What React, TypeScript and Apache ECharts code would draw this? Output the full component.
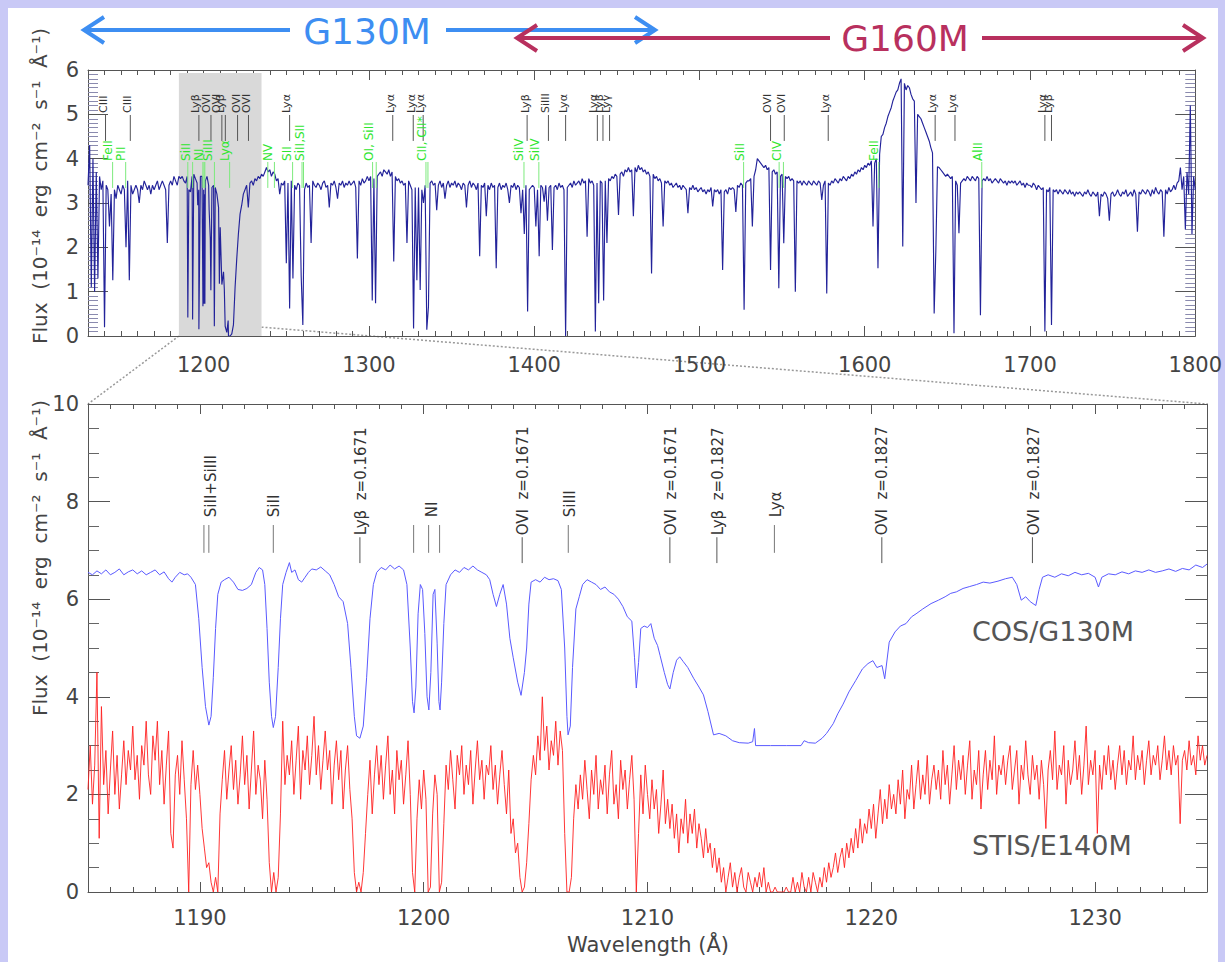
import React, { useEffect, useRef } from 'react';
import * as echarts from 'echarts';

// ---------- DATA ----------
// Full COS spectrum (top panel), flux at 1 Å steps from 1130 to 1800
const topStart = 1130;
const topFlux = [
  3.4, 4.3, 1.1, 4.0, 1.0, 3.7, 1.3, 3.6, 3.3, 3.5,
  0.2, 3.4, 3.3, 2.47, 3.2, 1.26, 3.3, 3.1, 3.4, 3.3,
  3.2, 3.4, 3.3, 2.0, 3.5, 1.26, 3.4, 3.2, 3.3, 3.4,
  3.3, 3.0, 3.4, 3.3, 3.5, 3.4, 3.3, 3.4, 3.2, 3.4,
  3.3, 3.4, 3.5, 3.3, 3.4, 3.5, 3.4, 3.3, 2.1, 3.4,
  3.5, 3.4, 3.6, 3.5, 3.4, 3.6, 3.55, 3.6, 3.5, 3.45,
  3.6, 3.3, 3.25, 3.6, 3.65, 3.55, 3.45, 3.3, 3.6, 3.6,
  3.3, 3.5, 3.6, 3.4, 2.2, 3.35, 3.4, 3.35, 3.2, 2.9,
  2.45, 1.16, 1.45, 0.22, 0.08, 0.0, 0.0, 0.05, 0.25, 1.1,
  1.74, 2.3, 2.75, 2.95, 3.2, 3.3, 3.4, 2.9, 3.45, 3.5,
  3.4, 3.55, 3.5, 3.6, 3.55, 3.65, 3.6, 3.7, 3.8, 3.7,
  3.75, 3.6, 3.7, 3.65, 3.5, 3.55, 3.2, 3.45, 3.4, 3.5,
  1.64, 3.45, 0.62, 3.5, 1.3, 3.4, 3.3, 3.45, 3.4, 1.34,
  0.25, 3.3, 3.45, 3.35, 3.4, 2.1, 3.5, 3.4, 3.35, 3.45,
  3.4, 3.3, 3.45, 3.5, 3.35, 3.4, 2.9, 3.45, 3.4, 3.5,
  3.35, 3.1, 3.45, 3.4, 3.5, 3.35, 3.45, 3.4, 3.5, 3.4,
  3.45, 3.5, 3.35, 1.75, 3.5, 3.4, 3.55, 3.45, 3.5, 3.6,
  3.5, 3.6, 0.8, 3.55, 0.74, 3.6, 3.65, 3.7, 3.6, 3.75,
  3.7, 3.65, 3.75, 3.6, 3.7, 1.68, 3.6, 3.5, 3.55, 3.45,
  3.5, 3.4, 3.45, 2.1, 3.5, 3.4, 3.3, 0.17, 3.35, 1.26,
  3.35, 1.04, 3.3, 3.0, 3.4, 0.14, 0.66, 3.45, 3.5, 3.4,
  3.45, 2.84, 3.4, 3.5, 3.35, 3.45, 3.1, 3.4, 3.5, 3.35,
  3.45, 3.4, 3.5, 3.35, 3.45, 3.4, 3.3, 3.45, 3.4, 2.9,
  3.4, 3.5, 3.35, 3.45, 3.4, 3.3, 3.45, 1.8, 3.4, 3.35,
  3.45, 2.7, 3.4, 3.3, 3.45, 3.35, 3.4, 1.53, 3.35, 3.45,
  3.3, 3.4, 3.35, 3.45, 3.3, 3.0, 3.4, 3.35, 3.45, 3.3,
  3.4, 3.35, 2.77, 3.3, 2.3, 3.4, 0.55, 3.3, 3.35, 3.4,
  3.35, 2.47, 3.3, 1.8, 3.4, 3.35, 3.03, 3.4, 2.6, 3.35,
  3.4, 1.94, 3.35, 3.4, 3.3, 3.45, 3.35, 3.4, 3.3, 0.0,
  3.35, 3.4, 3.45, 3.35, 3.5, 3.4, 3.45, 3.5, 3.4, 3.55,
  3.45, 3.5, 2.24, 3.55, 3.45, 3.5, 3.4, 0.1, 3.45, 0.74,
  3.5, 3.45, 0.8, 3.5, 2.1, 3.55, 3.5, 3.6, 3.55, 3.65,
  3.6, 2.73, 3.65, 3.7, 3.6, 3.75, 3.7, 3.8, 3.7, 3.75,
  2.7, 3.8, 3.7, 3.85, 3.75, 3.8, 3.7, 3.75, 3.65, 3.7,
  3.6, 1.41, 3.65, 3.55, 3.6, 3.5, 3.55, 3.45, 2.47, 3.5,
  3.45, 3.5, 3.4, 3.45, 3.35, 3.4, 3.45, 3.35, 3.4, 3.3,
  3.4, 3.35, 3.3, 2.77, 3.35, 3.3, 3.4, 3.3, 3.35, 3.25,
  3.3, 3.35, 3.25, 3.3, 3.2, 3.3, 3.25, 3.35, 2.92, 3.3,
  3.25, 3.3, 3.2, 3.3, 1.49, 3.25, 3.3, 3.2, 3.35, 3.3,
  3.35, 3.3, 2.8, 3.4, 3.35, 3.45, 3.4, 0.59, 3.45, 3.5,
  3.5, 3.55, 2.47, 3.6, 3.75, 4.0, 3.95, 3.9, 3.85, 3.8,
  3.85, 3.75, 3.8, 1.49, 3.7, 3.75, 3.65, 3.7, 1.08, 3.6,
  3.65, 2.09, 3.6, 3.55, 3.6, 3.5, 3.55, 3.5, 1.0, 3.5,
  3.45, 3.5, 3.4, 3.5, 3.45, 3.4, 3.5, 3.45, 3.4, 3.5,
  3.45, 3.4, 3.5, 3.45, 3.07, 3.4, 3.5, 0.96, 3.45, 3.4,
  3.5, 3.45, 3.55, 3.5, 3.45, 3.55, 3.5, 3.6, 3.55, 3.5,
  3.6, 3.55, 3.65, 3.6, 3.7, 3.65, 3.75, 3.7, 3.8, 3.75,
  3.85, 3.8, 3.9, 3.85, 3.95, 2.47, 3.9, 4.0, 1.53, 4.1,
  4.5, 4.55, 4.7, 4.8, 4.95, 5.05, 5.15, 5.3, 5.4, 5.5,
  5.55, 5.7, 5.8, 2.02, 5.7, 5.55, 5.65, 5.6, 5.45, 5.35,
  5.3, 3.0, 5.0, 4.95, 4.9, 4.8, 4.7, 4.6, 4.5, 4.4,
  4.25, 4.13, 0.51, 1.9, 3.82, 3.8, 3.75, 3.7, 3.65, 3.6,
  3.65, 3.6, 3.55, 3.6, 0.06, 3.5, 3.4, 2.32, 3.45, 3.5,
  3.55, 3.5, 3.6, 3.55, 3.5, 3.6, 3.55, 3.5, 3.6, 3.55,
  0.47, 3.5, 3.55, 3.5, 3.6, 3.5, 3.55, 3.45, 3.5, 3.55,
  3.5, 3.45, 3.55, 3.5, 3.45, 3.5, 3.4, 3.5, 3.45, 3.5,
  3.45, 3.5, 3.4, 3.45, 3.5, 3.4, 3.45, 3.35, 3.45, 3.4,
  3.4, 3.35, 3.45, 3.4, 3.3, 3.4, 3.35, 3.3, 3.35, 0.1,
  3.3, 3.25, 3.35, 0.25, 3.3, 3.25, 3.3, 3.2, 3.3, 3.25,
  3.2, 3.3, 3.25, 3.2, 3.3, 3.2, 3.25, 3.15, 3.25, 3.2,
  3.25, 3.2, 3.15, 3.25, 3.2, 3.3, 3.2, 3.15, 3.25, 3.2,
  3.15, 3.25, 2.7, 3.2, 3.15, 3.25, 3.2, 3.1, 2.6, 3.2,
  3.25, 3.15, 3.2, 3.3, 3.2, 3.15, 3.25, 3.2, 3.3, 3.15,
  3.2, 3.25, 3.15, 3.3, 3.2, 2.35, 3.25, 3.2, 3.3, 3.25,
  3.2, 3.3, 3.25, 3.15, 3.3, 3.2, 3.35, 3.25, 3.2, 3.3,
  3.25, 2.24, 3.3, 3.2, 3.35, 3.25, 3.3, 3.4, 3.3, 3.45,
  3.5, 3.8, 3.3, 3.6, 2.4, 3.7, 3.2, 5.2, 2.3, 3.6,
  3.3,
];
// extra narrow absorption minima inside the zoomed window (top panel)
const topLines = [
  [1190.4, 0.42], [1193.3, 0.37], [1196.4, 2.95], [1197.1, 0.15], [1199.55, 0.67],
  [1200.22, 0.73], [1200.45, 3.2], [1200.72, 0.73], [1203.3, 2.85], [1204.35, 1.03],
  [1206.45, 0.22], [1209.5, 1.18], [1212.5, 1.04], [1214.8, 0.35],
];

// COS/G130M in the zoom panel (as displayed, offset upward)
const cosG130M = [
  [1185.0, 6.55], [1185.2, 6.5], [1185.4, 6.58], [1185.6, 6.52], [1185.8, 6.6], [1186.0, 6.5],
  [1186.2, 6.55], [1186.4, 6.62], [1186.6, 6.5], [1186.8, 6.56], [1187.0, 6.6], [1187.2, 6.52],
  [1187.4, 6.58], [1187.6, 6.5], [1187.8, 6.55], [1188.0, 6.6], [1188.2, 6.5], [1188.4, 6.56],
  [1188.6, 6.42], [1188.75, 6.35], [1188.9, 6.45], [1189.1, 6.55], [1189.3, 6.5], [1189.45, 6.52],
  [1189.6, 6.45], [1189.8, 6.3], [1189.95, 5.6], [1190.1, 4.6], [1190.25, 3.8], [1190.4, 3.42],
  [1190.5, 3.6], [1190.6, 4.4], [1190.7, 5.4], [1190.8, 6.1], [1190.95, 6.35], [1191.1, 6.4],
  [1191.3, 6.45], [1191.5, 6.35], [1191.7, 6.2], [1191.9, 6.18], [1192.1, 6.22], [1192.3, 6.3],
  [1192.5, 6.55], [1192.65, 6.65], [1192.8, 6.6], [1192.9, 6.3], [1193.0, 5.4], [1193.1, 4.3],
  [1193.2, 3.6], [1193.28, 3.37], [1193.38, 3.6], [1193.5, 4.6], [1193.6, 5.6], [1193.7, 6.3],
  [1193.85, 6.55], [1194.0, 6.75], [1194.1, 6.55], [1194.25, 6.6], [1194.4, 6.4], [1194.55, 6.35],
  [1194.7, 6.45], [1194.85, 6.55], [1195.0, 6.62], [1195.2, 6.6], [1195.4, 6.66], [1195.6, 6.58],
  [1195.8, 6.5], [1196.0, 6.3], [1196.2, 6.05], [1196.4, 5.95], [1196.6, 5.5], [1196.75, 4.6],
  [1196.9, 3.6], [1197.0, 3.2], [1197.15, 3.15], [1197.3, 3.4], [1197.45, 4.4], [1197.6, 5.6],
  [1197.75, 6.3], [1197.9, 6.55], [1198.1, 6.65], [1198.3, 6.6], [1198.5, 6.7], [1198.7, 6.62],
  [1198.9, 6.68], [1199.1, 6.6], [1199.25, 6.3], [1199.4, 5.0], [1199.5, 3.9], [1199.57, 3.67],
  [1199.65, 4.2], [1199.75, 5.7], [1199.85, 6.3], [1199.95, 6.2], [1200.05, 5.3], [1200.15, 4.0],
  [1200.23, 3.73], [1200.32, 4.5], [1200.42, 6.1], [1200.5, 6.2], [1200.6, 5.1], [1200.68, 3.9],
  [1200.73, 3.73], [1200.8, 4.3], [1200.9, 5.5], [1201.0, 6.3], [1201.2, 6.5], [1201.4, 6.6],
  [1201.6, 6.55], [1201.8, 6.65], [1202.0, 6.6], [1202.2, 6.68], [1202.4, 6.6], [1202.6, 6.55],
  [1202.8, 6.5], [1202.95, 6.4], [1203.1, 6.1], [1203.25, 5.85], [1203.4, 6.1], [1203.55, 6.3],
  [1203.7, 5.9], [1203.85, 5.2], [1204.0, 4.8], [1204.2, 4.3], [1204.35, 4.03], [1204.5, 4.5],
  [1204.6, 5.0], [1204.7, 5.9], [1204.8, 6.35], [1205.0, 6.4], [1205.2, 6.35], [1205.4, 6.45],
  [1205.6, 6.4], [1205.8, 6.42], [1206.0, 6.38], [1206.15, 6.2], [1206.3, 5.0], [1206.4, 3.6],
  [1206.45, 3.22], [1206.55, 3.4], [1206.65, 4.6], [1206.8, 5.8], [1206.95, 6.05], [1207.1, 6.3],
  [1207.3, 6.4], [1207.5, 6.35], [1207.7, 6.3], [1207.9, 6.2], [1208.1, 6.25], [1208.3, 6.15],
  [1208.5, 6.1], [1208.7, 6.0], [1208.9, 5.85], [1209.1, 5.64], [1209.3, 5.55], [1209.42, 4.8],
  [1209.5, 4.18], [1209.6, 4.7], [1209.7, 5.4], [1209.85, 5.45], [1210.0, 5.42], [1210.15, 5.5],
  [1210.3, 5.2], [1210.45, 5.05], [1210.56, 4.85], [1210.75, 4.5], [1210.9, 4.25], [1211.0, 4.16],
  [1211.15, 4.5], [1211.3, 4.75], [1211.44, 4.82], [1211.6, 4.72], [1211.8, 4.6], [1212.06, 4.38],
  [1212.3, 4.2], [1212.5, 4.04], [1212.7, 3.7], [1212.95, 3.22], [1213.2, 3.25], [1213.5, 3.2],
  [1213.8, 3.1], [1214.1, 3.06], [1214.5, 3.05], [1214.7, 3.08], [1214.78, 3.35], [1214.83, 3.0],
  [1215.5, 3.0], [1216.2, 3.0], [1216.86, 3.0], [1217.0, 3.1], [1217.2, 3.06], [1217.5, 3.05],
  [1217.8, 3.15], [1218.0, 3.25], [1218.3, 3.45], [1218.5, 3.65], [1218.74, 3.85], [1219.0, 4.1],
  [1219.3, 4.33], [1219.6, 4.57], [1219.85, 4.68], [1220.07, 4.74], [1220.25, 4.6], [1220.48, 4.64],
  [1220.6, 4.37], [1220.8, 5.12], [1221.06, 5.33], [1221.3, 5.45], [1221.55, 5.5], [1221.8, 5.64],
  [1222.0, 5.7], [1222.3, 5.8], [1222.67, 5.91], [1223.0, 5.98], [1223.3, 6.05], [1223.55, 6.12],
  [1223.8, 6.15], [1224.1, 6.22], [1224.4, 6.26], [1224.7, 6.3], [1225.0, 6.35], [1225.3, 6.33],
  [1225.66, 6.37], [1226.0, 6.42], [1226.3, 6.45], [1226.5, 6.3], [1226.7, 5.98], [1226.9, 6.05],
  [1227.1, 5.95], [1227.35, 5.87], [1227.5, 6.2], [1227.65, 6.45], [1227.9, 6.5], [1228.2, 6.45],
  [1228.5, 6.52], [1228.8, 6.48], [1229.1, 6.55], [1229.4, 6.5], [1229.7, 6.53], [1230.0, 6.45],
  [1230.15, 6.25], [1230.3, 6.45], [1230.6, 6.52], [1230.9, 6.5], [1231.2, 6.56], [1231.5, 6.52],
  [1231.8, 6.58], [1232.1, 6.55], [1232.4, 6.6], [1232.7, 6.55], [1233.0, 6.58], [1233.3, 6.62],
  [1233.6, 6.57], [1233.9, 6.63], [1234.2, 6.6], [1234.5, 6.7], [1234.8, 6.65], [1235.0, 6.72],
];

// STIS/E140M in the zoom panel, 0.1 Å steps from 1185.0
const stisStart = 1185;
const stisStep = 0.1;
const stisE140M = [
  2.1, 3.0, 1.8, 2.6, 4.5, 1.1, 3.8, 2.2, 2.9, 1.6,
  2.5, 3.3, 2.0, 2.8, 1.7, 2.4, 3.1, 2.2, 2.9, 2.5,
  3.4, 2.3, 2.8, 1.9, 3.0, 2.6, 3.5, 2.4, 2.0, 3.2,
  2.7, 3.5, 2.2, 2.9, 1.8, 2.6, 3.3, 1.2, 0.9, 2.4,
  2.8, 2.0, 3.1, 2.3, 1.5, 0.0, 2.2, 2.9, 2.1, 2.6,
  2.0, 1.3, 0.9, 0.5, 0.6, 0.2, 0.0, 0.3, 0.0, 1.6,
  2.3, 2.9, 1.9, 2.5, 3.0, 2.1, 2.7, 1.8, 2.4, 3.2,
  2.2, 2.8, 1.7, 2.5, 3.3, 2.0, 2.6, 2.3, 1.5, 2.7,
  1.9, 0.6, 0.0, 0.4, 0.0, 0.3, 1.6, 3.5, 2.2, 2.8,
  2.4, 3.1, 2.0, 2.7, 3.4, 1.9, 2.9, 2.5, 3.2, 2.2,
  2.8, 3.6, 2.4, 3.0, 2.1, 2.7, 3.3, 2.5, 2.9, 1.8,
  2.6, 3.1, 2.3, 2.9, 1.7, 2.5, 3.0, 2.1, 1.5, 0.4,
  0.0, 0.2, 0.0, 0.4, 1.2, 2.0, 2.7, 1.6, 2.4, 3.0,
  2.2, 2.8, 1.9, 2.6, 3.2, 2.0, 2.5, 1.6, 2.9, 2.3,
  2.7, 1.8, 2.4, 3.1, 2.0, 0.4, 0.0, 1.5, 2.3, 1.7,
  2.5, 1.9, 0.0, 0.1, 1.6, 2.4, 2.0, 0.0, 0.2, 1.4,
  2.6, 2.1, 2.9, 2.3, 1.7, 2.8, 2.4, 3.0, 2.0, 2.6,
  2.2, 2.9, 1.8, 2.5, 3.1, 2.3, 2.7, 1.9, 2.6, 2.4,
  3.0, 2.1, 2.6, 1.8, 2.4, 2.9, 2.2, 1.6, 2.5, 1.2,
  1.5, 0.8, 1.0, 0.3, 0.0, 0.1, 0.6, 1.4, 2.3, 2.8,
  2.4, 3.2, 2.7, 4.0, 2.9, 3.4, 2.5, 3.1, 2.8, 3.5,
  2.6, 3.3, 2.9, 1.2, 0.0, 0.0, 0.3, 1.5, 2.2, 1.7,
  2.4, 1.9, 2.7, 2.1, 1.5, 2.5, 2.0, 2.8, 1.7, 2.3,
  2.0, 2.6, 1.6, 2.4, 2.9, 1.8, 2.2, 1.5, 2.7, 2.1,
  2.5, 1.7, 2.3, 2.8, 1.9, 0.0, 1.2, 2.4, 1.6, 2.6,
  2.0, 1.5, 2.3, 1.7, 2.1, 1.2, 1.8, 2.5, 1.4, 1.9,
  1.3, 1.8, 1.1, 1.6, 0.8, 1.5, 1.2, 1.9, 1.0, 1.6,
  1.2, 1.7, 0.9, 1.4, 1.1, 0.7, 1.3, 0.8, 1.0, 0.5,
  0.9, 0.4, 0.7, 0.2, 0.5, 0.0, 0.3, 0.6, 0.1, 0.4,
  0.0, 0.3, 0.5, 0.1, 0.0, 0.4, 0.2, 0.0, 0.3, 0.1,
  0.4, 0.1, 0.5, 0.0, 0.2, 0.0, 0.0, 0.1, 0.0, 0.0,
  0.0, 0.0, 0.1, 0.0, 0.0, 0.3, 0.0, 0.2, 0.0, 0.4,
  0.1, 0.0, 0.3, 0.0, 0.4, 0.2, 0.0, 0.3, 0.1, 0.5,
  0.2, 0.6, 0.3, 0.5, 0.8, 0.4, 0.7, 0.9, 0.5, 1.0,
  0.7, 1.1, 0.8, 1.3, 0.9, 1.5, 1.0, 1.4, 1.2, 1.7,
  1.3, 1.8, 1.1, 1.6, 2.1, 1.4, 1.9, 1.5, 2.2, 1.7,
  2.0, 1.6, 2.3, 1.8, 2.5, 1.5, 2.1, 1.9, 2.6, 1.7,
  2.2, 2.7, 1.9, 2.4, 2.0, 2.8, 1.8, 2.3, 2.6, 2.1,
  2.5, 1.9, 2.9, 2.2, 2.6, 1.8, 2.4, 3.0, 2.1, 2.7,
  2.3, 2.8, 2.0, 2.6, 3.1, 1.9, 2.5, 2.2, 2.9, 1.7,
  2.4, 2.9, 2.1, 2.7, 2.3, 3.2, 2.0, 2.6, 2.4, 2.8,
  2.2, 2.7, 3.0, 2.1, 2.5, 2.9, 1.8, 2.6, 2.3, 3.1,
  2.4, 2.0, 2.8, 2.3, 2.6, 1.9, 2.7, 2.2, 1.3, 2.5,
  2.9, 2.3, 3.3, 2.1, 2.6, 2.4, 3.0, 1.8, 2.7, 2.2,
  2.5, 3.1, 2.3, 2.8, 2.0, 2.6, 3.4, 2.2, 2.7, 2.4,
  2.9, 1.2, 2.6, 2.1, 2.8, 2.4, 3.0, 2.3, 2.7, 2.1,
  2.6, 3.0, 2.4, 2.9, 2.2, 2.7, 2.5, 3.2, 2.3, 2.8,
  2.5, 2.9, 2.2, 2.7, 3.1, 2.4, 2.8, 2.6, 3.0, 2.3,
  2.7, 3.2, 2.5, 2.9, 2.4, 3.0, 2.6, 2.8, 1.4, 2.7,
  2.9, 2.5, 3.1, 2.6, 2.8, 2.4, 3.2, 2.7, 3.0, 2.6,
  2.8,
];

// line identifications (top panel)
const topBlackLines = [1140.6, 1155.6, 1197.1, 1204.4, 1211.0, 1213.1, 1220.5, 1227.1, 1252.0, 1314.4,
  1326.8, 1332.8, 1395.7, 1408.6, 1419.0, 1438.2, 1441.6, 1445.6, 1543.0, 1551.3, 1577.9, 1642.6,
  1654.6, 1709.0, 1713.0];
const topBlackText: [number, string][] = [
  [1139.2, 'CIII'], [1154.1, 'CIII'], [1195.1, 'Lyβ'], [1201.8, 'OVI'], [1207.8, 'OVI'], [1210.0, 'Lyβ'],
  [1220.0, 'OVI'], [1226.0, 'OVI'], [1249.9, 'Lyα'], [1313.0, 'Lyα'], [1325.6, 'Lyα'], [1331.2, 'Lyα'],
  [1394.5, 'Lyβ'], [1406.6, 'SiIII'], [1417.6, 'Lyα'], [1435.8, 'Lyα'], [1439.8, 'Lyβ'], [1444.0, 'Lyγ'],
  [1541.4, 'OVI'], [1549.6, 'OVI'], [1576.3, 'Lyα'], [1641.2, 'Lyα'], [1653.2, 'Lyα'], [1707.3, 'Lyα'],
  [1711.4, 'Lyβ'],
];
const topGreenLines = [1144.9, 1152.8, 1190.4, 1193.3, 1199.5, 1200.2, 1200.7, 1206.5, 1215.7, 1238.8,
  1242.8, 1253.8, 1259.5, 1260.4, 1302.2, 1304.4, 1334.5, 1335.7, 1393.8, 1402.8, 1526.7, 1548.2,
  1550.8, 1608.5, 1670.8];
const topGreenText: [number, string][] = [
  [1142.2, 'FeII'], [1150.2, 'PII'], [1189.1, 'SiII'], [1196.9, 'NI'], [1202.6, 'SiIII'], [1213.1, 'Lyα'],
  [1239.0, 'NV'], [1250.4, 'SII'], [1258.0, 'SiII,SII'], [1299.9, 'OI, SiII'], [1331.8, 'CII, CII*'],
  [1390.8, 'SiIV'], [1400.2, 'SiIV'], [1524.4, 'SiII'], [1546.8, 'CIV'], [1605.6, 'FeII'], [1668.6, 'AlII'],
];

// line identifications (zoom panel)
const zoomLongLines = [1197.15, 1204.4, 1211.0, 1213.1, 1220.47, 1227.2];
const zoomLongText: [number, string][] = [
  [1197.2, 'Lyβ\u00a0\u00a0z=0.1671'], [1204.45, 'OVI\u00a0\u00a0z=0.1671'], [1211.05, 'OVI\u00a0\u00a0z=0.1671'],
  [1213.15, 'Lyβ\u00a0\u00a0z=0.1827'], [1220.5, 'OVI\u00a0\u00a0z=0.1827'], [1227.25, 'OVI\u00a0\u00a0z=0.1827'],
];
const zoomShortLines = [1190.18, 1190.4, 1193.28, 1199.55, 1200.22, 1200.71, 1206.46, 1215.67];
const zoomShortText: [number, string][] = [
  [1190.48, 'SiII+SiIII'], [1193.32, 'SiII'], [1200.36, 'NI'], [1206.52, 'SiIII'], [1215.74, 'Lyα'],
];

const topTickLabels = [1200, 1300, 1400, 1500, 1600, 1700, 1800];
const zoomTickLabels = [1190, 1200, 1210, 1220, 1230];

// ---------- STYLE ----------
const FONT = '"DejaVu Sans", sans-serif';
const AX = '#555';
const TXT = '#444';

function xAxes(gridIndex: number, min: number, max: number, minorInterval: number, majors: number[], margin: number) {
  const base = { type: 'value', gridIndex, min, max, splitLine: { show: false }, minorTick: { show: false } };
  const fmt = (v: number) => {
    const r = Math.round(v);
    return Math.abs(v - r) < 1e-6 && majors.indexOf(r) >= 0 ? String(r) : '';
  };
  const mk = (position: string, labels: boolean) => [
    {
      ...base, position, interval: minorInterval,
      axisLine: { show: true, onZero: false, lineStyle: { color: AX, width: 1 } },
      axisTick: { show: true, inside: true, length: 5, lineStyle: { color: AX } },
      axisLabel: labels
        ? { show: true, margin, fontSize: 21, color: TXT, fontFamily: FONT, formatter: fmt }
        : { show: false },
    },
    {
      ...base, position,
      axisLine: { show: false, onZero: false },
      axisTick: { show: true, inside: true, length: 10, customValues: majors, lineStyle: { color: AX } },
      axisLabel: { show: false },
    },
  ];
  return [...mk('bottom', true), ...mk('top', false)];
}

function yAxes(gridIndex: number, max: number, interval: number, minorSplit: number,
  majorLen: number, minorLen: number, minorColor: string) {
  const mk = (position: string, labels: boolean) => ({
    type: 'value', gridIndex, min: 0, max, interval, position,
    splitLine: { show: false },
    axisLine: { show: true, onZero: false, lineStyle: { color: AX, width: 1 } },
    axisTick: { show: true, inside: true, length: majorLen, lineStyle: { color: AX } },
    minorTick: { show: true, splitNumber: minorSplit, length: minorLen, lineStyle: { color: minorColor } },
    axisLabel: labels ? { show: true, margin: 9, fontSize: 21, color: TXT, fontFamily: FONT } : { show: false },
  });
  return [mk('left', true), mk('right', false)];
}

function vlines(xi: number, yi: number, ws: number[], y0: number, y1: number, color: string, width: number) {
  return {
    type: 'custom', xAxisIndex: xi, yAxisIndex: yi, silent: true, z: 4,
    data: ws.map((w) => [w, y0, y1]),
    renderItem: (_p: any, api: any) => {
      const a = api.coord([api.value(0), api.value(1)]);
      const b = api.coord([api.value(0), api.value(2)]);
      return { type: 'line', shape: { x1: a[0], y1: a[1], x2: b[0], y2: b[1] }, style: { stroke: color, lineWidth: width } };
    },
  };
}

function vtexts(xi: number, yi: number, items: [number, string][], y: number, color: string, size: number) {
  return {
    type: 'custom', xAxisIndex: xi, yAxisIndex: yi, silent: true, z: 5,
    data: items.map(([w]) => [w, y]),
    renderItem: (p: any, api: any) => {
      const c = api.coord([api.value(0), api.value(1)]);
      return {
        type: 'text', x: c[0], y: c[1], rotation: Math.PI / 2,
        style: {
          text: items[p.dataIndex][1], fill: color, font: `${size}px ${FONT}`,
          align: 'left', verticalAlign: 'middle',
        },
      };
    },
  };
}

function buildGraphic() {
  const yTitle = 'Flux\u00a0\u00a0(10⁻¹⁴\u00a0\u00a0erg\u00a0\u00a0cm⁻²\u00a0\u00a0s⁻¹\u00a0\u00a0Å⁻¹)';
  const blue = '#3d8ef2';
  const red = '#b8305e';
  return [
    { type: 'rect', shape: { x: 0, y: 0, width: 1225, height: 8 }, style: { fill: '#c9c9f6' }, silent: true },
    { type: 'rect', shape: { x: 0, y: 0, width: 8, height: 962 }, style: { fill: '#c9c9f6' }, silent: true },
    { type: 'rect', shape: { x: 1218, y: 0, width: 7, height: 962 }, style: { fill: '#c9c9f6' }, silent: true },
    // G130M arrow
    { type: 'line', shape: { x1: 84, y1: 30, x2: 290, y2: 30 }, style: { stroke: blue, lineWidth: 4 } },
    { type: 'line', shape: { x1: 446, y1: 30, x2: 655, y2: 30 }, style: { stroke: blue, lineWidth: 4 } },
    { type: 'polyline', shape: { points: [[104, 17], [84, 30], [104, 43]] }, style: { stroke: blue, lineWidth: 4, fill: null } },
    { type: 'polyline', shape: { points: [[635, 17], [655, 30], [635, 43]] }, style: { stroke: blue, lineWidth: 4, fill: null } },
    { type: 'text', x: 367, y: 31, style: { text: 'G130M', fill: blue, font: `36px ${FONT}`, align: 'center', verticalAlign: 'middle' } },
    // G160M arrow
    { type: 'line', shape: { x1: 517, y1: 38, x2: 830, y2: 38 }, style: { stroke: red, lineWidth: 4 } },
    { type: 'line', shape: { x1: 982, y1: 38, x2: 1203, y2: 38 }, style: { stroke: red, lineWidth: 4 } },
    { type: 'polyline', shape: { points: [[537, 25], [517, 38], [537, 51]] }, style: { stroke: red, lineWidth: 4, fill: null } },
    { type: 'polyline', shape: { points: [[1183, 25], [1203, 38], [1183, 51]] }, style: { stroke: red, lineWidth: 4, fill: null } },
    { type: 'text', x: 905, y: 38, style: { text: 'G160M', fill: red, font: `36px ${FONT}`, align: 'center', verticalAlign: 'middle' } },
    // axis titles
    { type: 'text', x: 40, y: 186, rotation: Math.PI / 2, style: { text: yTitle, fill: TXT, font: `20px ${FONT}`, align: 'center', verticalAlign: 'middle' } },
    { type: 'text', x: 40, y: 558, rotation: Math.PI / 2, style: { text: yTitle, fill: TXT, font: `20px ${FONT}`, align: 'center', verticalAlign: 'middle' } },
    { type: 'text', x: 648, y: 945, style: { text: 'Wavelength (Å)', fill: TXT, font: `21px ${FONT}`, align: 'center', verticalAlign: 'middle' } },
    // instrument labels
    { type: 'text', x: 972, y: 631, style: { text: 'COS/G130M', fill: '#555', font: `27px ${FONT}`, align: 'left', verticalAlign: 'middle' } },
    { type: 'text', x: 972, y: 845, style: { text: 'STIS/E140M', fill: '#555', font: `27px ${FONT}`, align: 'left', verticalAlign: 'middle' } },
  ];
}

function buildOption() {
  const topData = topFlux.map((v, i) => [topStart + i, v]).concat(topLines).sort((a, b) => a[0] - b[0]);
  const stisData = stisE140M.map((v, i) => [Math.round((stisStart + i * stisStep) * 100) / 100, v]);
  return {
    animation: false,
    backgroundColor: '#ffffff',
    textStyle: { fontFamily: FONT },
    grid: [
      { left: 88, top: 70, width: 1119, height: 266 },
      { left: 88, top: 404, width: 1119, height: 488 },
    ],
    xAxis: [
      ...xAxes(0, 1130, 1800, 10, topTickLabels, 18),
      ...xAxes(1, 1185, 1235, 1, zoomTickLabels, 15),
    ],
    yAxis: [
      ...yAxes(0, 6, 1, 10, 20, 10, '#8a8aae'),
      ...yAxes(1, 10, 2, 4, 22, 11, '#666'),
    ],
    series: [
      {
        type: 'line', xAxisIndex: 0, yAxisIndex: 0, data: topData, symbol: 'none', showSymbol: false,
        lineStyle: { color: '#23239a', width: 1.15 }, z: 3, silent: true,
        markArea: {
          silent: true, itemStyle: { color: '#d9d9d9' },
          data: [[{ coord: [1185, 0] }, { coord: [1235, 5.93] }]],
        },
      },
      {
        type: 'line', xAxisIndex: 4, yAxisIndex: 2, data: cosG130M, symbol: 'none', showSymbol: false,
        lineStyle: { color: '#5a5aff', width: 1 }, z: 3, silent: true,
      },
      {
        type: 'line', xAxisIndex: 4, yAxisIndex: 2, data: stisData, symbol: 'none', showSymbol: false,
        lineStyle: { color: '#ff2020', width: 0.9 }, z: 3, silent: true,
      },
      vlines(0, 0, topBlackLines, 4.4, 4.985, '#555', 1),
      vtexts(0, 0, topBlackText, 5.03, '#333', 11),
      vlines(0, 0, topGreenLines, 3.34, 3.925, '#7dea7d', 1),
      vtexts(0, 0, topGreenText, 3.95, '#2fe62f', 12),
      vlines(4, 2, zoomLongLines, 6.74, 7.27, '#555', 1),
      vtexts(4, 2, zoomLongText, 7.31, '#333', 15),
      vlines(4, 2, zoomShortLines, 6.95, 7.52, '#777', 1),
      vtexts(4, 2, zoomShortText, 7.68, '#333', 15),
    ],
    graphic: buildGraphic(),
  };
}

export default function App() {
  const ref = useRef<HTMLDivElement>(null);
  useEffect(() => {
    if (!ref.current) return;
    const chart = echarts.init(ref.current, null, { renderer: 'svg' });
    chart.setOption(buildOption() as any);
    const a = chart.convertToPixel({ seriesIndex: 0 }, [1185, 0]) as number[];
    const b = chart.convertToPixel({ seriesIndex: 0 }, [1235, 0.2]) as number[];
    const c = chart.convertToPixel({ seriesIndex: 1 }, [1185, 10]) as number[];
    const d = chart.convertToPixel({ seriesIndex: 1 }, [1235, 10]) as number[];
    const dotted = { stroke: '#999', lineWidth: 1.5, lineDash: [2, 2] };
    chart.setOption({
      graphic: [
        ...buildGraphic(),
        { type: 'line', shape: { x1: a[0], y1: a[1], x2: c[0], y2: c[1] }, style: dotted, silent: true },
        { type: 'line', shape: { x1: b[0], y1: b[1], x2: d[0], y2: d[1] }, style: dotted, silent: true },
      ],
    } as any);
    return () => chart.dispose();
  }, []);
  return <div ref={ref} style={{ position: 'fixed', left: 0, top: 0, width: 1225, height: 962 }} />;
}
